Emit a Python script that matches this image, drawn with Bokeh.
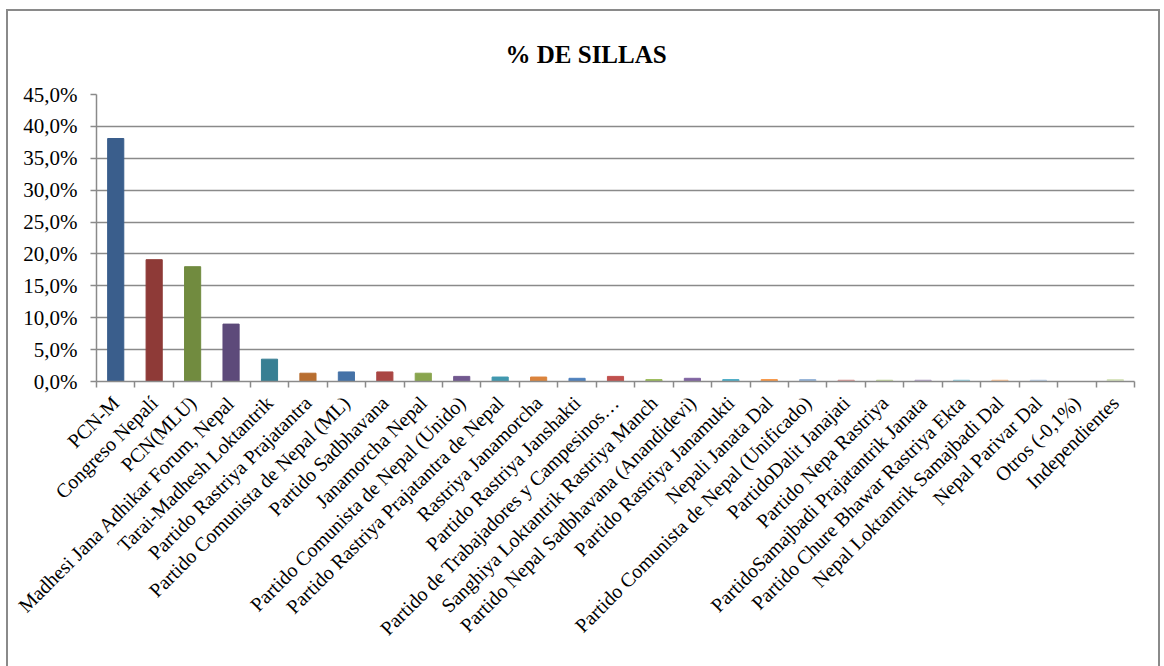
import math
from bokeh.plotting import figure
from bokeh.models import FixedTicker, ColumnDataSource, Range1d
from bokeh.embed import file_html
from bokeh.resources import INLINE

categories = [
    "PCN-M", "Congreso Nepalí", "PCN(MLU)", "Madhesi Jana Adhikar Forum, Nepal",
    "Tarai-Madhesh Loktantrik", "Partido Rastriya Prajatantra",
    "Partido Comunista de Nepal (ML)", "Partido Sadbhavana", "Janamorcha Nepal",
    "Partido Comunista de Nepal (Unido)", "Partido Rastriya Prajatantra de Nepal",
    "Rastriya Janamorcha", "Partido Rastriya Janshakti",
    "Partido de Trabajadores y Campesinos…", "Sanghiya Loktantrik Rastriya Manch",
    "Partido Nepal Sadbhavana (Anandidevi)", "Partido Rastriya Janamukti",
    "Nepali Janata Dal", "Partido Comunista de Nepal (Unificado)",
    "PartidoDalit Janajati", "Partido Nepa Rastriya",
    "PartidoSamajbadi Prajatantrik Janata", "Partido Chure Bhawar Rastriya Ekta",
    "Nepal Loktantrik Samajbadi Dal", "Nepal Parivar Dal", "Otros (-0,1%)",
    "Independientes",
]
pct_seats = [38.1, 19.1, 18.0, 9.0, 3.5, 1.3, 1.5, 1.5, 1.3, 0.8, 0.7, 0.7, 0.5,
             0.8, 0.3, 0.5, 0.3, 0.3, 0.3, 0.2, 0.2, 0.2, 0.2, 0.2, 0.2, 0.0, 0.3]
y_ticks = [0, 5, 10, 15, 20, 25, 30, 35, 40, 45]
y_tick_labels = ["0,0%", "5,0%", "10,0%", "15,0%", "20,0%", "25,0%", "30,0%",
                 "35,0%", "40,0%", "45,0%"]
bar_colors = [
    "#3A5E8C", "#8E3A37", "#718B3F", "#5D4A7A", "#377F93", "#B86E30",
    "#4572A7", "#AA4643", "#89A54E", "#71588F", "#4198AF", "#DB843D",
    "#4F81BD", "#C0504D", "#9BBB59", "#8064A2", "#4BACC6", "#F79646",
    "#95B3D7", "#D99694", "#C3D69B", "#B3A2C7", "#93CDDD", "#FAC090",
    "#B9CDE5", "#E6B9B8", "#D7E4BD",
]

n = len(categories)
xs = [i + 0.5 for i in range(n)]
src = ColumnDataSource(dict(x=xs, top=pct_seats, color=bar_colors))

FONT = "Liberation Serif"
GRAY = "#8A8A8A"

p = figure(width=1154, height=660, output_backend="svg", toolbar_location=None,
           x_range=Range1d(0, n), y_range=Range1d(0, 45),
           min_border_left=88, min_border_right=28, min_border_top=82,
           min_border_bottom=290, title="% DE SILLAS")
p.styles = {"border": "2px solid #8A8A8A", "margin": "9px 0 0 6px"}
p.vbar(x="x", top="top", width=0.42, color="color", source=src)

p.title.align = "left"
p.title.offset = 409
p.title.vertical_align = "bottom"
p.title.text_font = FONT
p.title.text_font_size = "25px"
p.title.text_font_style = "bold"
p.title.text_color = "#000000"
p.title.standoff = 54

p.outline_line_color = None
p.xgrid.grid_line_color = None
p.ygrid.grid_line_color = GRAY
p.ygrid.grid_line_width = 1.5
p.ygrid.ticker = FixedTicker(ticks=y_ticks)

p.yaxis.ticker = FixedTicker(ticks=y_ticks)
p.yaxis.major_label_overrides = {t: l for t, l in zip(y_ticks, y_tick_labels)}
p.yaxis.major_label_text_font = FONT
p.yaxis.major_label_text_font_size = "21px"
p.yaxis.major_label_text_color = "#000000"
p.yaxis.axis_line_color = GRAY
p.yaxis.axis_line_width = 1.5
p.yaxis.major_tick_line_color = GRAY
p.yaxis.major_tick_line_width = 1.5
p.yaxis.major_tick_in = 0
p.yaxis.major_tick_out = 6
p.yaxis.minor_tick_line_color = None
p.yaxis.major_label_standoff = 13

p.xaxis.ticker = FixedTicker(ticks=xs, minor_ticks=list(range(n + 1)))
p.xaxis.major_label_overrides = {x: c for x, c in zip(xs, categories)}
p.xaxis.major_label_orientation = math.pi / 4
p.xaxis.major_label_text_font = FONT
p.xaxis.major_label_text_font_size = "20px"
p.xaxis.major_label_text_color = "#000000"
p.xaxis.axis_line_color = GRAY
p.xaxis.axis_line_width = 1.5
p.xaxis.major_tick_line_color = None
p.xaxis.minor_tick_line_color = GRAY
p.xaxis.minor_tick_line_width = 1.5
p.xaxis.minor_tick_in = 0
p.xaxis.minor_tick_out = 6
p.xaxis.major_label_standoff = 12

open("out.html", "w").write(file_html(p, INLINE))
